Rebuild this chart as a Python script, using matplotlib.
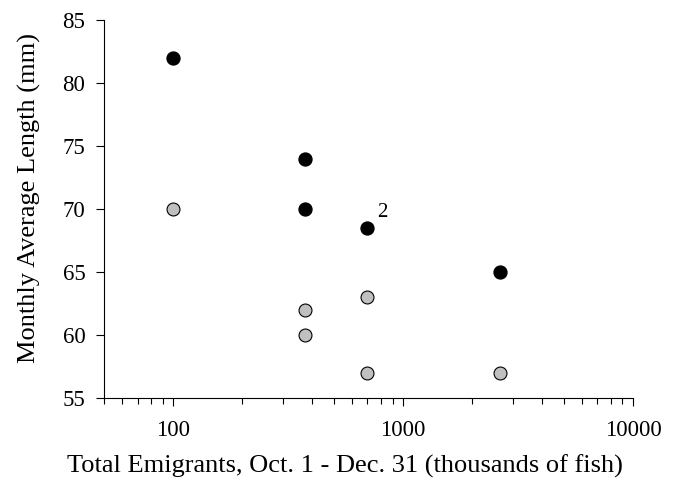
import matplotlib.pyplot as plt
from matplotlib.ticker import LogLocator, NullFormatter, FixedLocator, FixedFormatter

plt.rcParams['font.family'] = ['Liberation Serif', 'DejaVu Serif']

# black series
emig_black = [100, 375, 375, 700, 2650]
len_black = [82, 74, 70, 68.5, 65]

# gray series
emig_gray = [100, 375, 375, 700, 700, 2650]
len_gray = [70, 62, 60, 63, 57, 57]

fig = plt.figure(figsize=(6.74, 4.91), dpi=100)
ax = fig.add_axes([104 / 674, 1 - 398 / 491, 529 / 674, 378 / 491])

ax.plot(emig_gray, len_gray, 'o', color='#c0c0c0', markeredgecolor='black',
        markeredgewidth=0.8, markersize=9.3, linestyle='none')
ax.plot(emig_black, len_black, 'o', color='black', markersize=9.3, linestyle='none')

ax.annotate('2', (700, 68.5), xytext=(7, 4), textcoords='offset points',
            fontsize=15, ha='left', va='bottom')

ax.set_xscale('log')
ax.set_xlim(50, 10000)
ax.set_ylim(55, 85)
ax.xaxis.set_major_locator(FixedLocator([100, 1000, 10000]))
ax.xaxis.set_major_formatter(FixedFormatter(['100', '1000', '10000']))
ax.xaxis.set_minor_locator(LogLocator(base=10, subs=range(2, 10)))
ax.xaxis.set_minor_formatter(NullFormatter())
ax.set_yticks(range(55, 90, 5))

for s in ['top', 'right']:
    ax.spines[s].set_visible(False)

ax.tick_params(axis='both', which='major', direction='out', length=5.5, labelsize=16.5, width=0.8)
ax.tick_params(axis='x', which='minor', direction='out', length=4, width=0.8)
ax.tick_params(axis='x', which='major', pad=10.5)
ax.tick_params(axis='y', which='major', pad=8)

ax.set_xlabel('Total Emigrants, Oct. 1 - Dec. 31 (thousands of fish)', fontsize=19)
ax.xaxis.label.set_va('baseline')
ax.xaxis.set_label_coords(0.456, -0.198)

ax.set_ylabel('Monthly Average Length (mm)', fontsize=19)
ax.yaxis.label.set_va('baseline')
ax.yaxis.set_label_coords(-0.130, 0.529)

fig.savefig('out.png', dpi=100)
